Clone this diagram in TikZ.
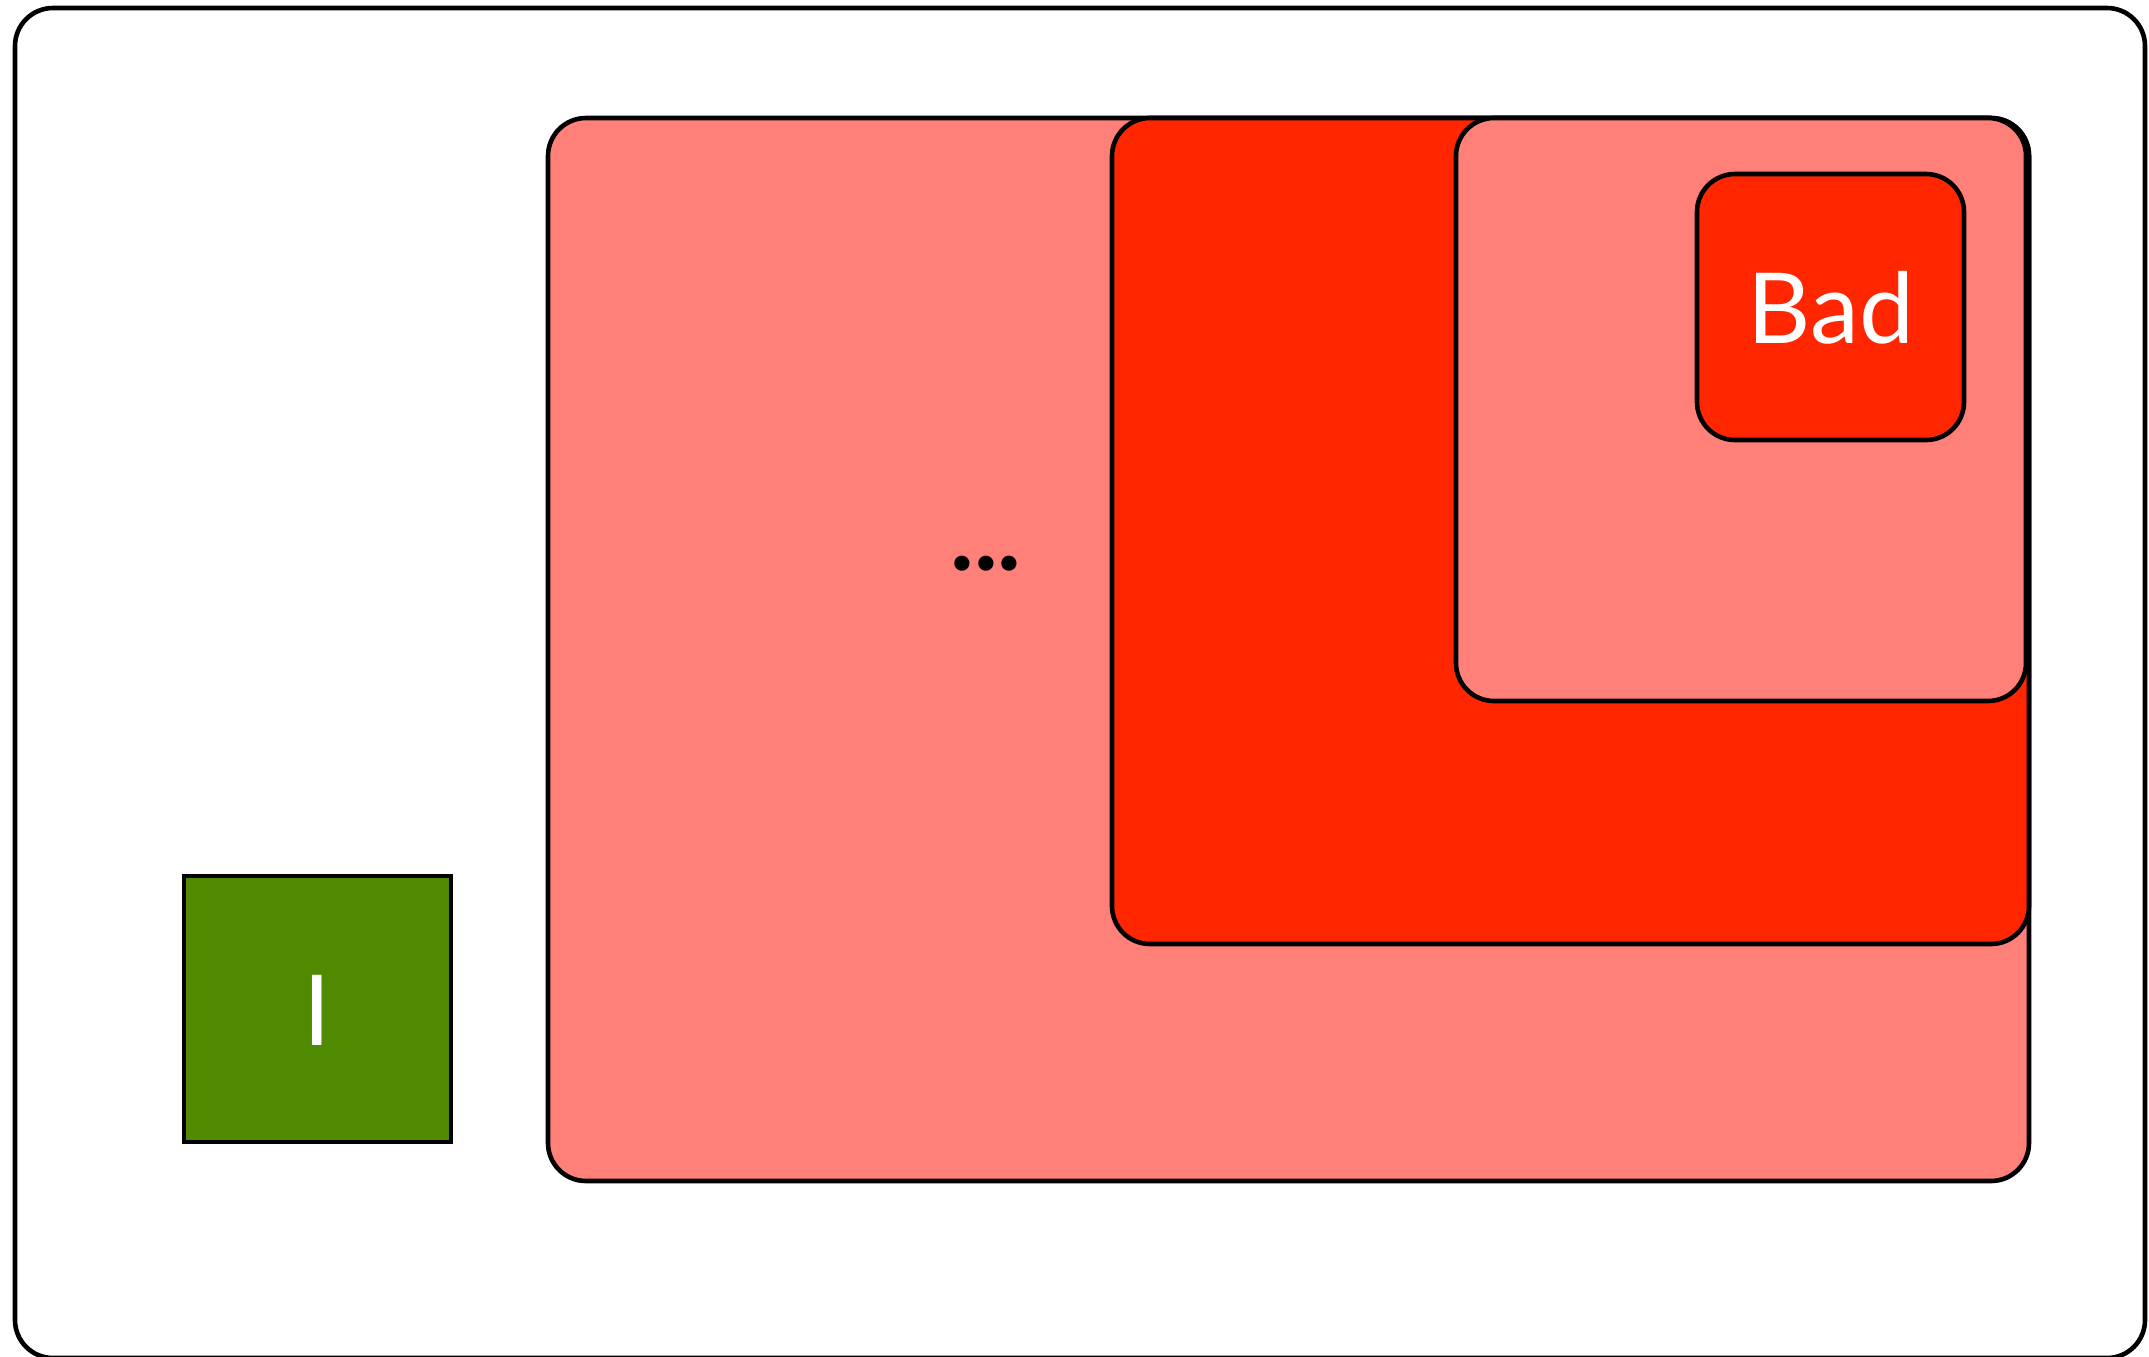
\documentclass[tikz,border=0pt]{standalone}
\usepackage{fontspec}
\setmainfont{Lato}
\definecolor{salmon}{HTML}{FF7F79}
\definecolor{alarm}{HTML}{FF2600}
\definecolor{leaf}{HTML}{4F8A00}

\begin{document}
\begin{tikzpicture}[x=0.5pt,y=-0.5pt,
  box/.style={draw=black,line width=2.3pt,rounded corners=19pt},
  label/.style={text=white,font=\fontsize{49}{60}\selectfont}]
\useasboundingbox (0,0) rectangle (2149,1356);
% outer frame
\draw[box,fill=white] (15,8) rectangle (2145,1358);

% nested regions
\draw[box,fill=salmon] (548,118) rectangle (2029,1181);
\draw[box,fill=alarm] (1112,118) rectangle (2029,944);
\draw[box,fill=salmon] (1456,118) rectangle (2026,701);
\draw[box,fill=alarm] (1697,174) rectangle (1964,440);
\node[label] (bad) at (1831,308) {Bad};
\node[anchor=base,font=\bfseries\fontsize{50}{60}\selectfont] (more) at (986,570) {...};

% green block
\draw[line width=2.3pt,fill=leaf] (184,876) rectangle (451,1142);
\node[label] (good) at (317.5,1010) {I};
\end{tikzpicture}
\end{document}
